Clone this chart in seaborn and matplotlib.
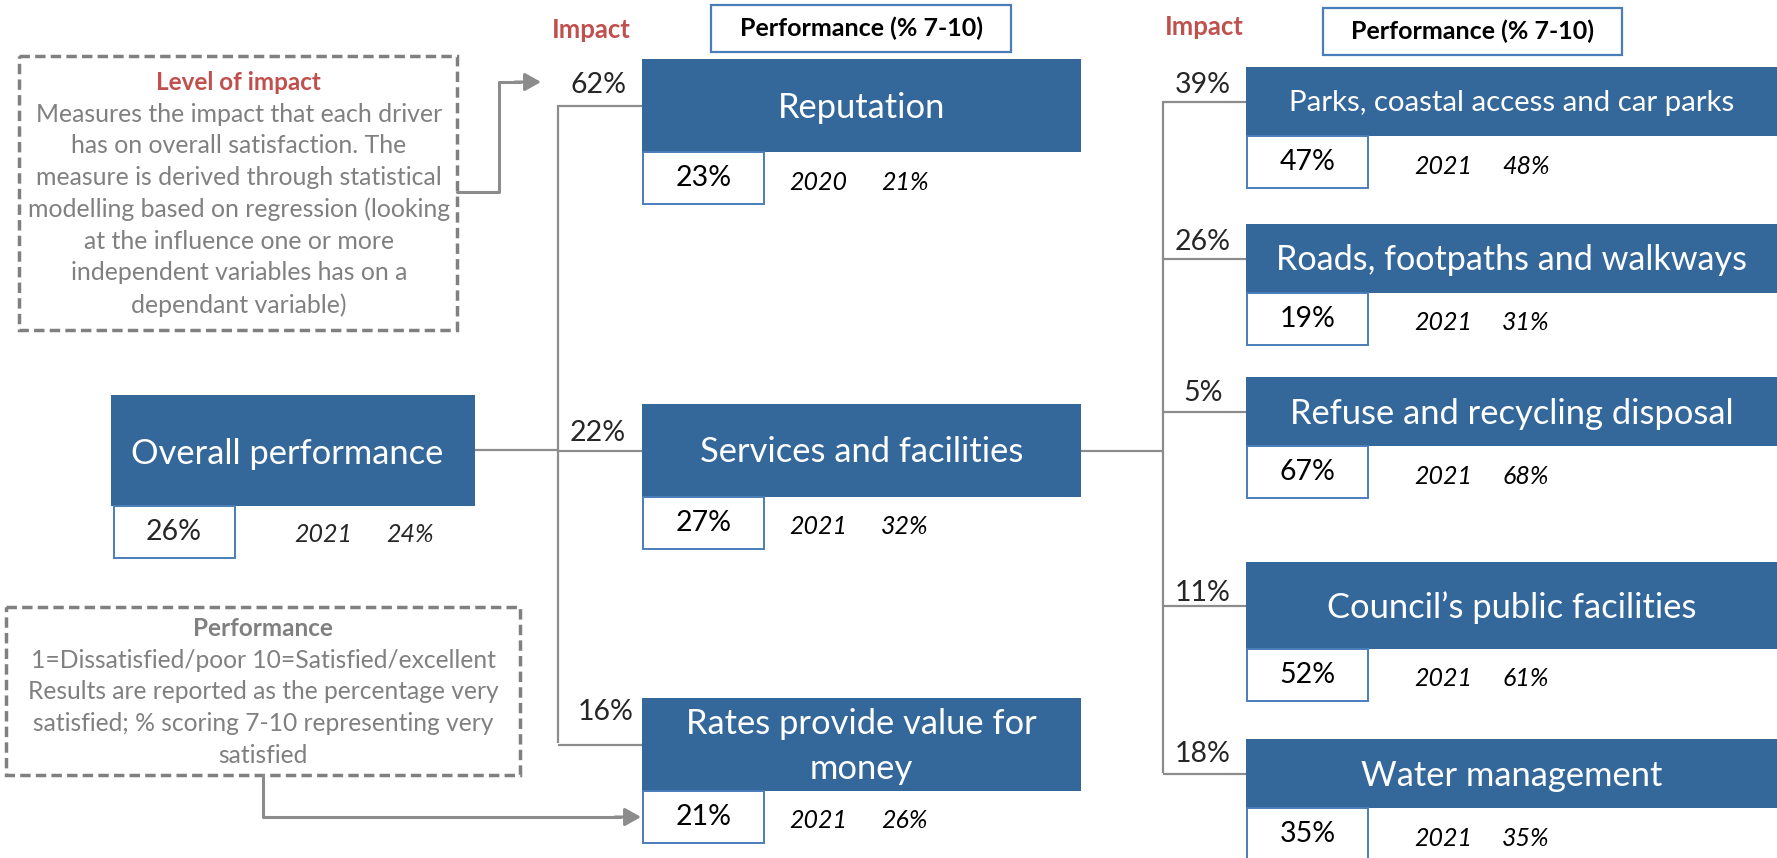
import matplotlib.pyplot as plt
import seaborn as sns
from matplotlib.patches import Rectangle

sns.set_theme(style="white")
plt.rcParams['font.family'] = ['Lato', 'DejaVu Sans']

# ---- data ----
overall_name = "Overall performance"
overall_perf = "26%"
overall_prev_year = "2021"
overall_prev_perf = "24%"

level1_names = ["Reputation", "Services and facilities", "Rates provide value for\nmoney"]
level1_impact = ["62%", "22%", "16%"]
level1_perf = ["23%", "27%", "21%"]
level1_prev_year = ["2020", "2021", "2021"]
level1_prev_perf = ["21%", "32%", "26%"]

level2_names = ["Parks, coastal access and car parks", "Roads, footpaths and walkways",
                "Refuse and recycling disposal", "Council\u2019s public facilities",
                "Water management"]
level2_impact = ["39%", "26%", "5%", "11%", "18%"]
level2_perf = ["47%", "19%", "67%", "52%", "35%"]
level2_prev_year = ["2021", "2021", "2021", "2021", "2021"]
level2_prev_perf = ["48%", "31%", "68%", "61%", "35%"]

impact_note_title = "Level of impact"
impact_note = ["Measures the impact that each driver",
               "has on overall satisfaction. The",
               "measure is derived through statistical",
               "modelling based on regression (looking",
               "at the influence one or more",
               "independent variables has on a",
               "dependant variable)"]
perf_note_title = "Performance"
perf_note = ["1=Dissatisfied/poor 10=Satisfied/excellent",
             "Results are reported as the percentage very",
             "satisfied; % scoring 7-10 representing very",
             "satisfied"]

# ---- layout (pixel coordinates) ----
BLUE = "#34679A"
EDGE = "#4A7EBB"
GREY = "#8C8C8C"
TGREY = "#808080"
RED = "#C0504D"

l1_x0, l1_x1 = 642, 1081
l1_top = [59, 404, 698]
l1_bot = [152, 497, 791]
l1_imp_y = [85, 433, 712]
l1_imp_x = [598, 598, 606]
l1_size = [24.8, 24.8, 24.8]

l2_x0, l2_x1 = 1246, 1777
l2_top = [67, 224, 377, 562, 739]
l2_bot = [136, 293, 446, 649, 808]
l2_imp_y = [85, 242, 393, 593, 754]
l2_size = [21.2, 24.6, 24.8, 24.8, 24.8]

fig = plt.figure(figsize=(17.77, 8.58), dpi=100)
ax = fig.add_axes([0, 0, 1, 1])
ax.set_xlim(0, 1777)
ax.set_ylim(858, 0)
ax.axis("off")


def line(xs, ys, **kw):
    ax.plot(xs, ys, color=GREY, lw=1.6, solid_capstyle="butt", zorder=1, **kw)


def node(x0, x1, top, bot, name, size, perf, year, prev, year_x, prev_x, pw=121, ph=52):
    ax.add_patch(Rectangle((x0, top), x1 - x0, bot - top, facecolor=BLUE, edgecolor="none", zorder=2))
    ax.text((x0 + x1) / 2, (top + bot) / 2 + 2, name, color="white", fontsize=size,
            ha="center", va="center", linespacing=1.5, zorder=3)
    ax.add_patch(Rectangle((x0 + 1, bot), pw, ph, facecolor="white", edgecolor=EDGE, lw=1.4, zorder=2))
    cy = bot + ph / 2
    ax.text(x0 + 1 + pw / 2, cy, perf, fontsize=20.5, ha="center", va="center", color="black", zorder=3)
    ax.text(year_x, cy + 4, year, fontsize=18, style="italic", ha="center", va="center", color="black")
    ax.text(prev_x, cy + 4, prev, fontsize=18, style="italic", ha="center", va="center", color="black")


# connectors
line([475, 558], [450, 450])
line([558, 558], [105, 743])
for t, b in zip(l1_top, l1_bot):
    line([558, l1_x0], [(t + b) / 2] * 2)
line([l1_x1, 1163], [451, 451])
line([1163, 1163], [101, 773])
for t, b in zip(l2_top, l2_bot):
    line([1163, l2_x0], [(t + b) / 2] * 2)

# overall node
ax.add_patch(Rectangle((111, 395), 364, 111, facecolor=BLUE, edgecolor="none", zorder=2))
ax.text(287, 454, overall_name, color="white", fontsize=24.8, ha="center", va="center", zorder=3)
ax.add_patch(Rectangle((114, 506), 121, 52, facecolor="white", edgecolor=EDGE, lw=1.4, zorder=2))
ax.text(174, 532, overall_perf, fontsize=20.5, ha="center", va="center")
ax.text(323, 535, overall_prev_year, fontsize=18, style="italic", ha="center", va="center")
ax.text(410, 535, overall_prev_perf, fontsize=18, style="italic", ha="center", va="center")

# level 1
for i in range(3):
    node(l1_x0, l1_x1, l1_top[i], l1_bot[i], level1_names[i], l1_size[i], level1_perf[i],
         level1_prev_year[i], level1_prev_perf[i], 818, 905)
    ax.text(l1_imp_x[i], l1_imp_y[i], level1_impact[i], fontsize=20.5, ha="center", va="center")

# level 2
for i in range(5):
    node(l2_x0, l2_x1, l2_top[i], l2_bot[i], level2_names[i], l2_size[i], level2_perf[i],
         level2_prev_year[i], level2_prev_perf[i], 1443, 1526)
    ax.text(1203, l2_imp_y[i], level2_impact[i], fontsize=20.5, ha="center", va="center")

# headers
for ix, iy, bx0, bx1, by0, by1 in [(591, 30, 711, 1011, 5, 52), (1204, 27, 1323, 1622, 8, 55)]:
    ax.text(ix, iy, "Impact", color=RED, fontsize=18.5, fontweight="bold", ha="center", va="center")
    ax.add_patch(Rectangle((bx0, by0), bx1 - bx0, by1 - by0, facecolor="white", edgecolor=EDGE, lw=1.6))
    ax.text((bx0 + bx1) / 2, (by0 + by1) / 2, "Performance (% 7-10)", fontsize=18,
            fontweight="bold", ha="center", va="center", color="black")

# note boxes
ax.add_patch(Rectangle((19, 56), 438, 274, facecolor="white", edgecolor=TGREY, lw=2.5, ls=(0, (3, 1.5))))
ax.text(238, 82, impact_note_title, color=RED, fontsize=17.5, fontweight="bold", ha="center", va="center")
for k, s in enumerate(impact_note):
    ax.text(239, 114 + 31.8 * k, s, color=TGREY, fontsize=17.9, ha="center", va="center")

ax.add_patch(Rectangle((6, 607), 514, 168, facecolor="white", edgecolor=TGREY, lw=2.5, ls=(0, (3, 1.5))))
ax.text(263, 628, perf_note_title, color=TGREY, fontsize=17.5, fontweight="bold", ha="center", va="center")
for k, s in enumerate(perf_note):
    ax.text(263, 660 + 31.7 * k, s, color=TGREY, fontsize=17.7, ha="center", va="center")

# note arrows
arrow_kw = dict(arrowstyle="-|>,head_length=0.8,head_width=0.45", color=GREY, lw=2.2, shrinkA=0, shrinkB=0)
ax.plot([457, 499, 499, 520], [192, 192, 82, 82], color=GREY, lw=2.2)
ax.annotate("", xy=(541, 82), xytext=(515, 82), arrowprops=arrow_kw)
ax.plot([263, 263, 620], [775, 817, 817], color=GREY, lw=2.2)
ax.annotate("", xy=(641, 817), xytext=(615, 817), arrowprops=arrow_kw)

fig.savefig("out.png", dpi=100, facecolor="white")
